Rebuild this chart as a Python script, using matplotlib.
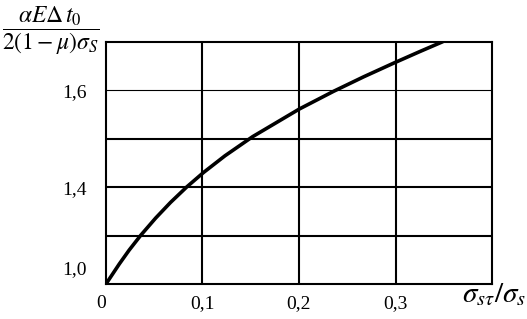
import numpy as np
import matplotlib
matplotlib.use("Agg")
import matplotlib.pyplot as plt

plt.rcParams['font.family'] = ['Liberation Serif', 'DejaVu Serif']
plt.rcParams['mathtext.fontset'] = 'stix'

# curve
ratio = [0.0, 0.0138, 0.024, 0.036, 0.0515, 0.0669, 0.0839, 0.101, 0.1233,
         0.152, 0.2003, 0.236, 0.267, 0.299, 0.325, 0.349]
value = [1.2, 1.2414, 1.27, 1.3006, 1.3363, 1.3686, 1.4009, 1.4303, 1.4649,
         1.5045, 1.5615, 1.5983, 1.6281, 1.6572, 1.6801, 1.7007]

x_grid = [0.1, 0.2, 0.3]
y_grid = [1.3, 1.4, 1.5]
y_thin = [1.6]
x_ticks = [0.0, 0.1, 0.2, 0.3]
x_labels = ['0', '0,1', '0,2', '0,3']
y_ticks = [1.233, 1.4, 1.6]
y_labels = ['1,0', '1,4', '1,6']

fig = plt.figure(figsize=(5.27, 3.19), dpi=100)
ax = fig.add_axes([0.2011, 0.1097, 0.7325, 0.7586])

for gx in x_grid:
    ax.axvline(gx, color='black', lw=1.5)
for gy in y_grid:
    ax.axhline(gy, color='black', lw=1.5)
for gy in y_thin:
    ax.axhline(gy, color='black', lw=0.8)

ax.plot(ratio, value, color='black', lw=2.6, solid_capstyle='round',
        solid_joinstyle='round')

ax.set_xlim(0, 0.4)
ax.set_ylim(1.2, 1.7)
for s in ax.spines.values():
    s.set_linewidth(1.5)

ax.set_xticks(x_ticks)
ax.set_xticklabels(x_labels, fontsize=14)
ax.set_yticks(y_ticks)
ax.set_yticklabels(y_labels, fontsize=14)
ax.tick_params(axis='x', length=0, pad=8)
ax.tick_params(axis='y', length=0, pad=14)
# the "0" sits a bit left of the corner
ax.get_xticklabels()[0].set_horizontalalignment('right')

fig.text(0.003, 0.905, r'$\dfrac{\alpha E\Delta\, t_0}{2(1-\mu)\sigma_S}$', fontsize=17, ha='left', va='center')
fig.text(0.999, 0.12, r'$\sigma_{s\tau}/\sigma_s$', fontsize=21, ha='right', va='top')

fig.savefig('out.png', dpi=100)
